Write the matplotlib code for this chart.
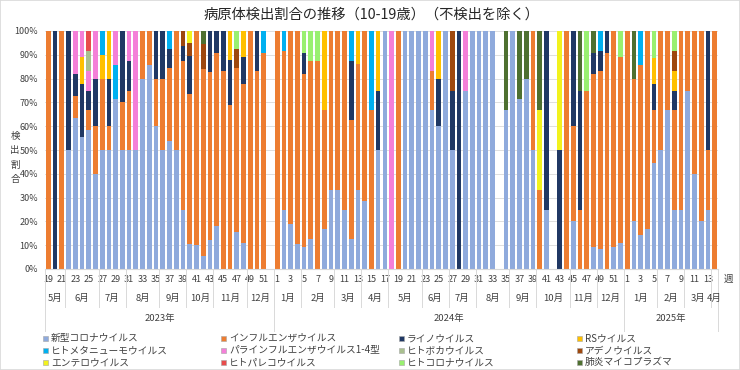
import numpy as np
import matplotlib
matplotlib.use('Agg')
import matplotlib.pyplot as plt
from matplotlib.patches import Rectangle
from matplotlib.lines import Line2D
from matplotlib.ticker import FuncFormatter

plt.rcParams['font.family'] = ['Noto Sans CJK JP', 'DejaVu Sans']

# Data section

# week numbers (2023 w19 .. 2025 w14)
weeks_2023 = list(range(19, 53))
weeks_2024 = list(range(1, 53))
weeks_2025 = list(range(1, 15))
weeks = weeks_2023 + weeks_2024 + weeks_2025

month_names = ['5月', '6月', '7月', '8月', '9月', '10月', '11月', '12月',
               '1月', '2月', '3月', '4月', '5月', '6月', '7月', '8月',
               '9月', '10月', '11月', '12月',
               '1月', '2月', '3月', '4月']
month_lengths = [3, 5, 4, 5, 4, 4, 5, 4,
                 4, 5, 4, 4, 5, 4, 4, 5, 4, 5, 4, 4,
                 5, 4, 4, 1]
year_names = ['2023年', '2024年', '2025年']
year_lengths = [34, 52, 14]

series_names = ['新型コロナウイルス', 'インフルエンザウイルス', 'ライノウイルス', 'RSウイルス',
                'ヒトメタニューモウイルス', 'パラインフルエンザウイルス1-4型', 'ヒトボカウイルス', 'アデノウイルス',
                'エンテロウイルス', 'ヒトパレコウイルス', 'ヒトコロナウイルス', '肺炎マイコプラズマ']

# detection share per week [%], one value per bar
corona = [0, 0, 0, 50, 63.6, 55.6, 58.3, 40, 50, 50,
          71.4, 50, 50, 50, 80, 85.7, 60, 50, 53.8, 50,
          25, 10.5, 10, 5.3, 12.2, 18.2, 0, 0, 15.4, 11.1,
          0, 0, 0, 0, 0, 25, 18.8, 10.5, 9.1, 12.5,
          0, 16.7, 33.3, 33.3, 25, 12.5, 33.3, 28.6, 0, 50,
          100, 0, 0, 100, 100, 100, 100, 66.7, 60, 100,
          50, 0, 75, 100, 100, 100, 100, 0, 66.7, 100,
          71.4, 80, 50, 0, 25, 0, 0, 0, 20, 0,
          0, 9.1, 8.3, 0, 9.1, 11.1, 0, 20, 14.3, 16.7,
          44.4, 50, 66.7, 25, 25, 75, 40, 20, 25, 0]
flu = [100, 0, 100, 0, 9.1, 0, 8.3, 20, 30, 10,
       0, 20, 25, 0, 20, 14.3, 20, 30, 30.8, 50,
       62.5, 63.2, 90, 78.9, 70.7, 72.7, 83.3, 68.9, 69.2, 66.7,
       100, 83.3, 90.9, 0, 100, 66.7, 81.2, 89.5, 72.7, 75,
       87.5, 50, 66.7, 66.7, 75, 50, 52.8, 71.4, 66.7, 0,
       0, 0, 100, 0, 0, 0, 0, 16.7, 0, 0,
       0, 0, 0, 0, 0, 0, 0, 0, 0, 0,
       0, 0, 50, 33.3, 0, 0, 0, 100, 40, 25,
       75, 72.7, 75, 90.9, 90.9, 77.8, 100, 60, 71.4, 83.3,
       22.2, 50, 33.3, 41.7, 75, 25, 60, 80, 25, 100]
rhino = [0, 100, 0, 50, 9.1, 22.2, 8.3, 20, 0, 20,
         0, 30, 12.5, 0, 0, 0, 20, 20, 7.7, 0,
         6.25, 15.8, 0, 0, 17.1, 9.1, 16.7, 18.9, 0, 11.1,
         0, 16.7, 0, 0, 0, 0, 0, 0, 9.1, 0,
         0, 0, 0, 0, 0, 25, 0, 0, 0, 25,
         0, 0, 0, 0, 0, 0, 0, 0, 20, 0,
         25, 100, 0, 0, 0, 0, 0, 0, 0, 0,
         0, 0, 0, 0, 75, 0, 50, 0, 40, 50,
         0, 9.1, 8.3, 9.1, 0, 0, 0, 0, 0, 0,
         11.1, 0, 0, 8.3, 0, 0, 0, 0, 50, 0]
rsv = [0, 0, 0, 0, 0, 11.1, 0, 0, 10, 20,
       0, 0, 0, 0, 0, 0, 0, 0, 0, 0,
       0, 0, 0, 0, 0, 0, 0, 12.2, 0, 11.1,
       0, 0, 0, 0, 0, 0, 0, 0, 0, 0,
       0, 33.3, 0, 0, 0, 0, 13.9, 0, 0, 25,
       0, 0, 0, 0, 0, 0, 0, 0, 20, 0,
       0, 0, 0, 0, 0, 0, 0, 0, 0, 0,
       0, 0, 0, 0, 0, 0, 0, 0, 0, 0,
       0, 0, 0, 0, 0, 0, 0, 0, 0, 0,
       11.1, 0, 0, 8.3, 0, 0, 0, 0, 0, 0]
hmpv = [0, 0, 0, 0, 0, 0, 0, 0, 10, 0,
        14.3, 0, 0, 0, 0, 0, 0, 0, 7.7, 0,
        0, 0, 0, 0, 0, 0, 0, 0, 0, 0,
        0, 0, 9.1, 0, 0, 8.3, 0, 0, 0, 0,
        0, 0, 0, 0, 0, 12.5, 0, 0, 33.3, 0,
        0, 0, 0, 0, 0, 0, 0, 0, 0, 0,
        0, 0, 0, 0, 0, 0, 0, 0, 0, 0,
        0, 0, 0, 0, 0, 0, 0, 0, 0, 0,
        0, 0, 8.3, 0, 0, 0, 0, 0, 14.3, 0,
        0, 0, 0, 0, 0, 0, 0, 0, 0, 0]
para = [0, 0, 0, 0, 18.2, 11.1, 8.3, 20, 0, 0,
        14.3, 0, 12.5, 50, 0, 0, 0, 0, 0, 0,
        0, 0, 0, 0, 0, 0, 0, 0, 0, 0,
        0, 0, 0, 0, 0, 0, 0, 0, 0, 0,
        0, 0, 0, 0, 0, 0, 0, 0, 0, 0,
        0, 100, 0, 0, 0, 0, 0, 16.7, 0, 0,
        0, 0, 25, 0, 0, 0, 0, 0, 0, 0,
        0, 0, 0, 0, 0, 0, 0, 0, 0, 0,
        0, 0, 0, 0, 0, 0, 0, 0, 0, 0,
        0, 0, 0, 0, 0, 0, 0, 0, 0, 0]
boca = [0, 0, 0, 0, 0, 0, 8.3, 0, 0, 0,
        0, 0, 0, 0, 0, 0, 0, 0, 0, 0,
        0, 0, 0, 0, 0, 0, 0, 0, 0, 0,
        0, 0, 0, 0, 0, 0, 0, 0, 0, 0,
        0, 0, 0, 0, 0, 0, 0, 0, 0, 0,
        0, 0, 0, 0, 0, 0, 0, 0, 0, 0,
        0, 0, 0, 0, 0, 0, 0, 0, 0, 0,
        0, 0, 0, 0, 0, 0, 0, 0, 0, 0,
        0, 0, 0, 0, 0, 0, 0, 0, 0, 0,
        0, 0, 0, 0, 0, 0, 0, 0, 0, 0]
adeno = [0, 0, 0, 0, 0, 0, 0, 0, 0, 0,
         0, 0, 0, 0, 0, 0, 0, 0, 0, 0,
         6.25, 5.3, 0, 10.5, 0, 0, 0, 0, 7.7, 0,
         0, 0, 0, 0, 0, 0, 0, 0, 0, 0,
         0, 0, 0, 0, 0, 0, 0, 0, 0, 0,
         0, 0, 0, 0, 0, 0, 0, 0, 0, 0,
         25, 0, 0, 0, 0, 0, 0, 0, 0, 0,
         0, 0, 0, 0, 0, 0, 0, 0, 0, 0,
         0, 0, 0, 0, 0, 0, 0, 0, 0, 0,
         0, 0, 0, 8.3, 0, 0, 0, 0, 0, 0]
entero = [0, 0, 0, 0, 0, 0, 0, 0, 0, 0,
          0, 0, 0, 0, 0, 0, 0, 0, 0, 0,
          0, 5.3, 0, 0, 0, 0, 0, 0, 0, 0,
          0, 0, 0, 0, 0, 0, 0, 0, 0, 0,
          0, 0, 0, 0, 0, 0, 0, 0, 0, 0,
          0, 0, 0, 0, 0, 0, 0, 0, 0, 0,
          0, 0, 0, 0, 0, 0, 0, 0, 0, 0,
          0, 0, 0, 33.3, 0, 0, 50, 0, 0, 0,
          0, 0, 0, 0, 0, 0, 0, 0, 0, 0,
          0, 0, 0, 0, 0, 0, 0, 0, 0, 0]
pareco = [0, 0, 0, 0, 0, 0, 8.3, 0, 0, 0,
          0, 0, 0, 0, 0, 0, 0, 0, 0, 0,
          0, 0, 0, 0, 0, 0, 0, 0, 0, 0,
          0, 0, 0, 0, 0, 0, 0, 0, 0, 0,
          0, 0, 0, 0, 0, 0, 0, 0, 0, 0,
          0, 0, 0, 0, 0, 0, 0, 0, 0, 0,
          0, 0, 0, 0, 0, 0, 0, 0, 0, 0,
          0, 0, 0, 0, 0, 0, 0, 0, 0, 0,
          0, 0, 0, 0, 0, 0, 0, 0, 0, 0,
          0, 0, 0, 0, 0, 0, 0, 0, 0, 0]
hcov = [0, 0, 0, 0, 0, 0, 0, 0, 0, 0,
        0, 0, 0, 0, 0, 0, 0, 0, 0, 0,
        0, 0, 0, 0, 0, 0, 0, 0, 7.7, 0,
        0, 0, 0, 0, 0, 0, 0, 0, 9.1, 12.5,
        12.5, 0, 0, 0, 0, 0, 0, 0, 0, 0,
        0, 0, 0, 0, 0, 0, 0, 0, 0, 0,
        0, 0, 0, 0, 0, 0, 0, 0, 0, 0,
        0, 0, 0, 0, 0, 0, 0, 0, 0, 0,
        25, 0, 0, 0, 0, 11.1, 0, 0, 0, 0,
        11.1, 0, 0, 8.3, 0, 0, 0, 0, 0, 0]
myco = [0, 0, 0, 0, 0, 0, 0, 0, 0, 0,
        0, 0, 0, 0, 0, 0, 0, 0, 0, 0,
        0, 0, 0, 5.3, 0, 0, 0, 0, 0, 0,
        0, 0, 0, 0, 0, 0, 0, 0, 0, 0,
        0, 0, 0, 0, 0, 0, 0, 0, 0, 0,
        0, 0, 0, 0, 0, 0, 0, 0, 0, 0,
        0, 0, 0, 0, 0, 0, 0, 0, 33.3, 0,
        28.6, 20, 0, 33.3, 0, 0, 0, 0, 0, 25,
        0, 9.1, 0, 0, 0, 0, 0, 20, 0, 0,
        0, 0, 0, 0, 0, 0, 0, 0, 0, 0]

colors = ['#8FAADC', '#ED7D31', '#203864', '#FFC000',
          '#00B0F0', '#F47FD8', '#A9C08F', '#9E480E',
          '#F2F21E', '#E84C4C', '#99F070', '#4E7030']


def main():
    series = [corona, flu, rhino, rsv, hmpv, para, boca, adeno,
              entero, pareco, hcov, myco]

    W, H = 740, 370
    fig = plt.figure(figsize=(W / 100, H / 100), dpi=100)
    ax = fig.add_axes([45 / W, 1 - 269 / H, 673 / W, 238 / H])

    x = np.arange(len(weeks))
    bottom = np.zeros(len(weeks))
    for name, vals, c in zip(series_names, series, colors):
        v = np.array(vals, dtype=float) / 100
        ax.bar(x, v, 0.7, bottom=bottom, color=c, linewidth=0, label=name)
        bottom += v

    ax.set_xlim(-0.5, len(weeks) - 0.5)
    ax.set_ylim(0, 1)
    ax.set_yticks(np.arange(0, 1.01, 0.1))
    ax.yaxis.set_major_formatter(FuncFormatter(lambda v, p: f'{v * 100:.0f}%'))
    ax.yaxis.grid(True, color='#D9D9D9', linewidth=0.6)
    ax.set_axisbelow(True)
    for s in ['left', 'right', 'top']:
        ax.spines[s].set_visible(False)
    ax.spines['bottom'].set_color('#D9D9D9')

    ticks = [i for i, w in enumerate(weeks) if w % 2 == 1]
    ax.set_xticks(ticks)
    ax.set_xticklabels([str(weeks[i]) for i in ticks])
    ax.tick_params(axis='both', length=0, labelsize=6.5, colors='#404040')
    ax.tick_params(axis='x', pad=4)
    ax.tick_params(axis='y', pad=5)

    trans = ax.get_xaxis_transform()
    ax.text(101.1, -0.042, '週', transform=trans, ha='center', va='center',
            fontsize=6.8, color='#404040', clip_on=False)

    # month row
    start = 0
    for name, n in zip(month_names, month_lengths):
        ax.text(start + (n - 1) / 2, -0.122, name, transform=trans, ha='center',
                va='center', fontsize=6.8, color='#404040')
        ax.add_line(Line2D([start - 0.5, start - 0.5], [0, -0.16], transform=trans,
                           color='#D9D9D9', linewidth=0.7, clip_on=False))
        start += n
    # year row
    start = 0
    for name, n in zip(year_names, year_lengths):
        ax.text(start + (n - 1) / 2, -0.206, name, transform=trans, ha='center',
                va='center', fontsize=6.8, color='#404040')
        ax.add_line(Line2D([start - 0.5, start - 0.5], [0, -0.26], transform=trans,
                           color='#D9D9D9', linewidth=0.7, clip_on=False))
        start += n
    ax.add_line(Line2D([start - 0.5, start - 0.5], [0, -0.26], transform=trans,
                       color='#D9D9D9', linewidth=0.7, clip_on=False))

    fig.text(372 / W, 1 - 15 / H, '病原体検出割合の推移（10-19歳）（不検出を除く）',
             ha='center', va='center', fontsize=10.3, color='#262626')
    fig.text(15 / W, 1 - 158 / H, '検\n出\n割\n合', ha='center', va='center',
             fontsize=6.8, color='#404040', linespacing=1.8)

    # legend, 4 equal columns like the original
    for i, (name, c) in enumerate(zip(series_names, colors)):
        r, col = divmod(i, 4)
        px = 43 + 178 * col
        py = 338 + 12 * r
        fig.add_artist(Rectangle((px / W, 1 - (py + 2.5) / H), 5 / W, 5 / H,
                                 facecolor=c, edgecolor='#A6A6A6', linewidth=0.4,
                                 transform=fig.transFigure))
        fig.text((px + 8) / W, 1 - py / H, name, ha='left', va='center',
                 fontsize=7, color='#404040')

    fig.add_artist(Rectangle((0, 0), 1, 1, fill=False, edgecolor='#D9D9D9',
                             linewidth=1.2, transform=fig.transFigure))

    fig.savefig('out.png', dpi=100)
    plt.close(fig)
    return None


if __name__ == "__main__":
    main()
